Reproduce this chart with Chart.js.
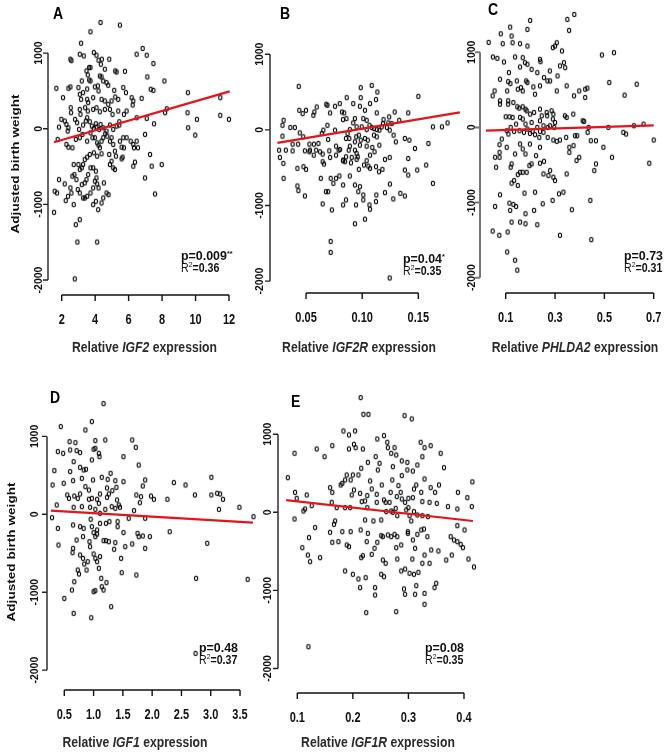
<!DOCTYPE html>
<html>
<head>
<meta charset="utf-8">
<script src="https://cdn.jsdelivr.net/npm/chart.js@4.4.1/dist/chart.umd.min.js"></script>
<style>
html, body { margin: 0; padding: 0; background: #fff; }
#wrap { position: relative; width: 670px; height: 755px; }
#wrap canvas { position: absolute; left: 0; top: 0; }
</style>
</head>
<body>
<div id="wrap">
  <canvas id="pA" width="670" height="755"></canvas>
  <canvas id="pB" width="670" height="755"></canvas>
  <canvas id="pC" width="670" height="755"></canvas>
  <canvas id="pD" width="670" height="755"></canvas>
  <canvas id="pE" width="670" height="755"></canvas>
</div>
<script>
// ---- data ----
const yTicks = [-2000, -1000, 0, 1000];

const igf2Ticks = [2, 4, 6, 8, 10, 12];
const igf2Labels = ['2', '4', '6', '8', '10', '12'];
const igf2Pts = [[4.32,1405],[5.48,1370],[3.72,1282],[3.16,1131],[2.52,920],[2.58,900],[3.08,985],[3.32,963],[3.92,1008],[4.08,972],[4.2,906],[4.4,919],[4.34,853],[3.64,809],[3.72,809],[4.84,919],[6.48,985],[6.84,1061],[7.08,972],[7.48,862],[5.2,765],[5.28,751],[5.78,760],[4.58,787],[4.28,698],[4.38,685],[4.48,632],[4.68,610],[4.78,575],[3.48,765],[3.56,712],[3.2,632],[3.64,645],[3.72,632],[7.12,685],[8.14,632],[7.48,508],[7.32,522],[1.68,535],[2.08,411],[2.4,535],[2.52,553],[3.0,544],[3.28,477],[3.52,526],[3.98,553],[4.16,566],[4.2,500],[5.14,508],[5.2,420],[5.68,544],[5.84,477],[6.18,411],[6.28,367],[6.24,314],[6.78,402],[3.08,455],[3.16,389],[3.52,389],[3.58,345],[3.88,411],[4.38,389],[4.58,367],[4.78,323],[4.98,367],[5.38,389],[2.54,278],[2.56,212],[3.08,256],[3.12,190],[3.56,234],[3.4,278],[3.88,256],[4.08,278],[4.28,225],[4.58,256],[4.88,256],[5.04,190],[5.38,234],[5.72,190],[5.88,234],[6.48,146],[7.08,137],[7.52,66],[8.18,212],[8.28,265],[9.54,477],[9.52,212],[9.56,13],[10.08,124],[9.98,-84],[11.48,411],[11.48,177],[12.0,124],[1.98,124],[2.18,102],[2.28,57],[2.4,13],[1.84,22],[1.76,-141],[2.36,-31],[2.8,124],[2.92,80],[3.04,-9],[3.28,49],[3.44,102],[3.52,146],[3.68,93],[3.8,35],[3.92,4],[4.08,22],[4.24,-9],[4.04,66],[4.32,57],[4.48,13],[4.68,-31],[4.88,49],[5.08,-9],[5.28,35],[5.44,93],[5.44,49],[2.28,-208],[2.4,-243],[2.64,-252],[2.84,-141],[3.08,-119],[3.24,-75],[3.52,-164],[3.72,-53],[3.84,-119],[3.98,-119],[4.12,-186],[4.2,-217],[4.28,-252],[4.38,-164],[4.48,-119],[4.6,-66],[4.72,-97],[4.88,-164],[4.98,-119],[5.08,-208],[5.18,-296],[5.24,-362],[4.84,-340],[4.38,-331],[4.12,-362],[3.92,-318],[3.68,-340],[3.52,-376],[3.38,-407],[3.28,-473],[3.2,-517],[3.08,-539],[3.0,-473],[2.72,-473],[2.76,-606],[2.64,-628],[2.88,-672],[3.2,-738],[3.38,-716],[3.48,-672],[3.58,-606],[3.72,-517],[3.88,-517],[4.04,-561],[4.08,-650],[3.98,-694],[4.12,-729],[3.88,-782],[3.72,-849],[3.52,-893],[3.28,-915],[3.38,-915],[3.08,-849],[2.96,-804],[2.52,-782],[2.58,-849],[2.38,-893],[2.24,-950],[1.84,-672],[1.58,-826],[1.72,-849],[2.18,-729],[1.54,-1105],[2.72,-1003],[3.88,-1003],[4.04,-959],[4.18,-1070],[4.38,-981],[4.48,-915],[4.68,-849],[4.8,-871],[4.52,-716],[4.2,-782],[2.84,-1268],[3.08,-1202],[2.94,-1498],[4.12,-1498],[2.78,-1985],[5.48,-164],[5.58,-243],[5.68,-119],[5.72,-252],[5.88,-119],[6.12,-164],[6.28,-208],[6.32,-252],[6.48,-164],[6.56,-252],[6.38,-442],[6.28,-495],[5.64,-376],[4.98,-429],[4.88,-473],[5.08,-517],[5.18,-539],[5.58,-398],[6.98,-75],[7.28,-340],[7.38,-495],[7.98,-473],[6.98,-650],[7.58,-862]];
const igf2Fit = [[1.54,-178],[12.04,494]];

const igf2rTicks = [0.05, 0.10, 0.15];
const igf2rLabels = ['0.05', '0.10', '0.15'];
const igf2rPts = [[0.0435,575],[0.0987,558],[0.1085,588],[0.1135,500],[0.1123,400],[0.0987,426],[0.0862,426],[0.092,347],[0.098,312],[0.107,347],[0.080,347],[0.0758,312],[0.068,338],[0.069,325],[0.0595,303],[0.0574,237],[0.0565,193],[0.05,259],[0.047,215],[0.044,259],[0.030,127],[0.029,61],[0.036,31],[0.040,31],[0.0444,-40],[0.029,-83],[0.026,-268],[0.032,-268],[0.038,-189],[0.043,-189],[0.049,-277],[0.053,-189],[0.0535,-268],[0.057,-189],[0.059,-268],[0.061,-180],[0.0569,-334],[0.0625,-290],[0.064,-48],[0.0654,-4],[0.0697,-127],[0.0758,-4],[0.079,-268],[0.0856,-114],[0.0885,-114],[0.089,4],[0.092,92],[0.0947,-92],[0.097,-70],[0.0996,40],[0.101,149],[0.104,127],[0.1065,61],[0.1085,31],[0.1105,-70],[0.113,-92],[0.1153,-4],[0.1174,40],[0.119,136],[0.1233,92],[0.124,171],[0.1263,83],[0.129,237],[0.1245,-4],[0.128,-70],[0.130,-158],[0.133,127],[0.138,-114],[0.142,-136],[0.141,224],[0.150,443],[0.147,-246],[0.159,-180],[0.163,40],[0.171,40],[0.176,92],[0.157,-465],[0.149,-531],[0.163,-707],[0.141,-378],[0.1203,-391],[0.1245,-364],[0.118,-522],[0.115,-553],[0.1123,-487],[0.107,-509],[0.1055,-479],[0.1016,-465],[0.097,-522],[0.096,-356],[0.095,-312],[0.095,-391],[0.0907,-364],[0.090,-435],[0.0856,-356],[0.083,-409],[0.0803,-259],[0.0767,-334],[0.0714,-364],[0.066,-452],[0.0648,-421],[0.0631,-641],[0.072,-641],[0.0743,-707],[0.0767,-641],[0.0797,-610],[0.083,-729],[0.089,-610],[0.0935,-729],[0.0965,-817],[0.098,-751],[0.101,-861],[0.101,-926],[0.0945,-992],[0.0856,-926],[0.083,-992],[0.073,-1058],[0.0648,-979],[0.0677,-817],[0.0697,-817],[0.049,-874],[0.0423,-742],[0.0432,-803],[0.030,-641],[0.0423,-509],[0.0477,-487],[0.050,-522],[0.0298,-443],[0.0267,-364],[0.1065,-992],[0.1123,-948],[0.107,-1049],[0.1126,-861],[0.1203,-830],[0.1277,-913],[0.134,-839],[0.138,-874],[0.1247,-716],[0.0935,-1242],[0.1025,-1181],[0.0719,-1475],[0.0719,-1620],[0.1245,-1958],[0.104,-408],[0.107,-334],[0.109,-233],[0.111,-290],[0.1153,-202],[0.104,-215],[0.098,-202],[0.0935,-268],[0.088,-268],[0.089,-215],[0.0767,-215],[0.0707,-277],[0.0648,-320],[0.053,-290],[0.038,-277],[0.0475,-92],[0.083,-400],[0.0848,-420],[0.0987,-136],[0.1025,-114],[0.105,-136],[0.0935,-158],[0.087,-48],[0.0829,136],[0.084,224],[0.082,237],[0.0714,224],[0.069,61],[0.086,149],[0.0935,149],[0.095,40],[0.1025,259],[0.113,224],[0.1185,83],[0.122,31],[0.1105,18],[0.104,4],[0.138,-531],[0.141,-597],[0.113,4]];
const igf2rFit = [[0.0245,-171],[0.187,232]];

const phlda2Ticks = [0.1, 0.3, 0.5, 0.7];
const phlda2Labels = ['0.1', '0.3', '0.5', '0.7'];
const phlda2Pts = [[0.199,1423],[0.35,1437],[0.378,1503],[0.357,1291],[0.188,1304],[0.118,1335],[0.08,1246],[0.124,1216],[0.128,1127],[0.158,1114],[0.188,1083],[0.088,1114],[0.031,1131],[0.048,937],[0.066,919],[0.093,871],[0.138,937],[0.169,928],[0.178,862],[0.158,804],[0.188,840],[0.205,773],[0.239,906],[0.241,875],[0.228,729],[0.255,663],[0.279,751],[0.3,1083],[0.307,1127],[0.291,1061],[0.328,1017],[0.336,862],[0.341,795],[0.32,818],[0.31,685],[0.49,964],[0.539,995],[0.52,597],[0.631,575],[0.582,429],[0.113,729],[0.11,610],[0.106,486],[0.11,354],[0.077,641],[0.119,583],[0.145,619],[0.149,508],[0.162,530],[0.169,486],[0.183,619],[0.188,597],[0.212,539],[0.219,442],[0.239,553],[0.269,619],[0.28,619],[0.307,486],[0.347,553],[0.377,420],[0.398,486],[0.422,508],[0.431,522],[0.422,398],[0.055,486],[0.047,420],[0.077,354],[0.077,309],[0.11,309],[0.131,331],[0.147,274],[0.155,256],[0.169,274],[0.18,243],[0.185,221],[0.199,177],[0.215,199],[0.239,243],[0.266,199],[0.268,155],[0.286,221],[0.293,177],[0.291,111],[0.3,66],[0.34,155],[0.347,133],[0.374,177],[0.412,88],[0.418,80],[0.1,141],[0.115,141],[0.128,133],[0.142,44],[0.158,133],[0.169,111],[0.18,44],[0.205,66],[0.239,88],[0.246,155],[0.253,22],[0.27,0],[0.28,22],[0.297,0],[0.104,-44],[0.111,-88],[0.12,0],[0.134,-53],[0.156,-44],[0.174,-66],[0.188,-22],[0.198,-80],[0.209,-53],[0.219,-97],[0.228,0],[0.236,-133],[0.239,-53],[0.253,-66],[0.27,-133],[0.293,-168],[0.307,-186],[0.32,-168],[0.345,-133],[0.358,-265],[0.358,-332],[0.375,-243],[0.381,-111],[0.39,-111],[0.398,-398],[0.387,-442],[0.432,-66],[0.436,0],[0.445,-177],[0.466,-177],[0.496,-265],[0.516,0],[0.577,-66],[0.588,-88],[0.62,22],[0.659,44],[0.7,-168],[0.682,-477],[0.531,-398],[0.466,-486],[0.459,-575],[0.443,-972],[0.447,-1494],[0.368,-1096],[0.32,-1436],[0.228,-1295],[0.18,-1282],[0.158,-1260],[0.124,-1260],[0.108,-1392],[0.074,-1436],[0.047,-1379],[0.106,-1658],[0.138,-1768],[0.147,-1900],[0.057,-1052],[0.077,-897],[0.115,-1008],[0.118,-1105],[0.131,-1025],[0.142,-1052],[0.18,-1149],[0.215,-1105],[0.219,-862],[0.176,-875],[0.149,-773],[0.134,-707],[0.124,-742],[0.12,-530],[0.124,-486],[0.138,-354],[0.149,-628],[0.158,-597],[0.169,-597],[0.185,-597],[0.196,-508],[0.205,-486],[0.239,-477],[0.255,-451],[0.253,-619],[0.273,-641],[0.28,-575],[0.293,-663],[0.3,-707],[0.316,-884],[0.334,-862],[0.347,-619],[0.29,-972],[0.25,-1017],[0.075,-332],[0.075,-398],[0.057,-398],[0.061,-530],[0.104,-265],[0.084,-155],[0.158,-221],[0.169,-287],[0.18,-354],[0.198,-221],[0.223,-376],[0.239,-265],[0.075,-230]];
const phlda2Fit = [[0.02,-44],[0.70,28]];

const igf1Ticks = [0.5, 1.0, 1.5, 2.0, 2.5, 3.0, 3.5];
const igf1Labels = ['0.5', '1.0', '1.5', '2.0', '2.5', '3.0', '3.5'];
const igf1Pts = [[1.17,1421],[0.44,1126],[0.97,1190],[0.86,1083],[0.59,933],[0.69,920],[1.03,946],[1.2,954],[1.66,954],[1.72,860],[0.39,805],[0.48,783],[0.6,826],[0.71,817],[0.77,792],[1.0,835],[1.03,847],[1.09,783],[1.1,740],[0.97,698],[0.66,676],[0.77,603],[0.83,569],[0.87,578],[1.51,740],[1.77,633],[0.33,561],[0.6,548],[0.3,377],[0.49,398],[0.65,432],[0.8,462],[0.86,355],[0.92,312],[0.99,441],[1.14,475],[1.24,449],[1.29,526],[1.37,432],[1.39,346],[1.51,419],[1.23,338],[1.26,261],[1.32,304],[1.4,184],[1.45,90],[1.84,364],[1.88,441],[1.73,248],[1.81,227],[1.79,150],[1.98,235],[2.03,193],[2.26,193],[2.37,407],[2.57,377],[2.73,248],[3.01,475],[3.01,248],[3.11,270],[3.16,261],[3.21,193],[3.14,64],[3.49,90],[3.73,-30],[0.55,248],[0.58,205],[0.67,235],[0.73,205],[0.77,261],[0.92,193],[0.97,205],[1.06,193],[1.09,141],[1.11,261],[1.23,218],[0.37,120],[0.66,90],[0.8,98],[0.94,90],[1.03,64],[1.11,13],[1.2,64],[1.31,98],[1.37,77],[1.43,120],[1.69,47],[0.29,-43],[0.65,-137],[0.77,-158],[0.83,-180],[0.95,-64],[0.97,-158],[1.0,-235],[1.06,-201],[1.03,-287],[1.11,-116],[1.21,-116],[1.27,-94],[1.41,-94],[1.41,-158],[1.51,-235],[1.6,-51],[1.88,-51],[1.75,-244],[1.77,-287],[1.84,-278],[1.96,-287],[2.3,-223],[0.39,-180],[0.4,-394],[0.65,-437],[0.64,-492],[0.71,-330],[0.82,-287],[0.93,-351],[0.94,-415],[1.06,-253],[1.17,-338],[1.21,-338],[1.26,-351],[1.37,-364],[1.35,-449],[1.54,-415],[1.66,-381],[1.88,-437],[1.47,-565],[0.77,-522],[0.82,-565],[0.9,-608],[0.84,-638],[0.88,-715],[1.0,-509],[1.03,-565],[1.06,-608],[1.11,-543],[1.09,-693],[0.73,-715],[0.75,-766],[0.67,-865],[1.13,-822],[1.22,-877],[1.14,-929],[1.17,-972],[1.0,-993],[1.03,-980],[0.63,-972],[0.5,-1079],[1.3,-1186],[0.66,-1271],[0.96,-1327],[1.48,-749],[1.73,-779],[2.75,-822],[2.94,-372],[3.63,-835],[2.74,-1785]];
const igf1Fit = [[0.27,47],[3.72,-107]];

const igf1rTicks = [0.1, 0.2, 0.3, 0.4];
const igf1rLabels = ['0.1', '0.2', '0.3', '0.4'];
const igf1rPts = [[0.214,1469],[0.219,1255],[0.228,1255],[0.293,1238],[0.306,1196],[0.183,1042],[0.193,991],[0.204,1042],[0.244,939],[0.256,982],[0.135,811],[0.163,854],[0.095,756],[0.149,713],[0.193,811],[0.202,871],[0.205,828],[0.218,811],[0.262,897],[0.263,828],[0.275,828],[0.269,756],[0.278,734],[0.288,658],[0.298,640],[0.322,897],[0.329,828],[0.34,854],[0.358,756],[0.325,713],[0.316,606],[0.308,529],[0.298,542],[0.288,470],[0.272,585],[0.248,628],[0.241,713],[0.245,542],[0.227,640],[0.215,564],[0.21,478],[0.2,478],[0.196,414],[0.189,478],[0.186,414],[0.178,350],[0.181,371],[0.083,444],[0.096,256],[0.099,179],[0.117,222],[0.095,-85],[0.111,17],[0.114,43],[0.126,85],[0.159,316],[0.163,256],[0.162,128],[0.171,60],[0.186,60],[0.195,60],[0.198,222],[0.202,286],[0.213,243],[0.216,137],[0.222,145],[0.226,214],[0.226,60],[0.234,299],[0.231,401],[0.243,128],[0.243,231],[0.252,350],[0.256,158],[0.259,128],[0.266,128],[0.268,256],[0.271,414],[0.279,201],[0.282,342],[0.277,51],[0.286,256],[0.288,171],[0.294,128],[0.3,179],[0.3,60],[0.308,188],[0.31,299],[0.314,350],[0.323,256],[0.325,137],[0.329,427],[0.338,128],[0.34,316],[0.348,256],[0.355,350],[0.351,115],[0.364,572],[0.371,73],[0.389,256],[0.388,43],[0.406,188],[0.414,73],[0.222,-98],[0.237,-111],[0.251,-98],[0.26,9],[0.269,17],[0.272,0],[0.28,-43],[0.296,30],[0.302,-43],[0.31,9],[0.316,-34],[0.325,-43],[0.335,-55],[0.305,-111],[0.168,-111],[0.166,-154],[0.159,-256],[0.132,-196],[0.121,-324],[0.109,-453],[0.119,-547],[0.123,-632],[0.141,-581],[0.163,-384],[0.174,-376],[0.181,-248],[0.189,-418],[0.193,-440],[0.196,-248],[0.214,-226],[0.225,-376],[0.215,-581],[0.218,-555],[0.227,-269],[0.234,-538],[0.239,-461],[0.244,-384],[0.251,-299],[0.254,-312],[0.254,-611],[0.259,-653],[0.263,-290],[0.269,-312],[0.275,-282],[0.278,-453],[0.28,-312],[0.28,-598],[0.287,-418],[0.299,-248],[0.299,-269],[0.308,-354],[0.312,-461],[0.316,-282],[0.323,-226],[0.328,-214],[0.334,-312],[0.341,-482],[0.329,-547],[0.325,-653],[0.338,-653],[0.307,-598],[0.287,-751],[0.294,-726],[0.302,-781],[0.31,-794],[0.318,-769],[0.186,-751],[0.2,-794],[0.21,-854],[0.213,-965],[0.223,-837],[0.24,-965],[0.24,-1059],[0.251,-794],[0.256,-824],[0.292,-982],[0.294,-1050],[0.314,-939],[0.312,-1050],[0.329,-1038],[0.347,-965],[0.35,-909],[0.329,-1178],[0.224,-1285],[0.278,-1272],[0.12,-1721],[0.376,-312],[0.382,-354],[0.388,-376],[0.394,-410],[0.398,-453],[0.368,-611],[0.378,-547],[0.388,-171],[0.401,-226],[0.408,-598],[0.354,-495],[0.415,390],[0.418,-700]];
const igf1rFit = [[0.080,157],[0.416,-111]];

const geneNames = ['IGF2', 'IGF2R', 'PHLDA2', 'IGF1', 'IGF1R'];
const pTexts = ['p=0.009', 'p=0.04', 'p=0.73', 'p=0.48', 'p=0.08'];
const pStars = ['**', '*', '', '', ''];
const r2Texts = ['0.36', '0.35', '0.31', '0.37', '0.35'];

// ---- layout ----
const FONT = '"Liberation Sans", Arial, sans-serif';
const panels = [
  { id: 'pA', letter: 'A', pts: igf2Pts, fit: igf2Fit, ticks: igf2Ticks, labels: igf2Labels, gene: 0,
    area: [48, 4, 238, 295], x: [1.181, 12.538], y: [-2198, 1636], ylabOff: 10,
    letterPos: [53, 13], statPos: [181, 255], titlePos: [144.5, 347], yTitle: [15, 164], axisCol: '#222' },
  { id: 'pB', letter: 'B', pts: igf2rPts, fit: igf2rFit, ticks: igf2rTicks, labels: igf2rLabels, gene: 1,
    area: [270, 4, 462, 293], x: [0.0179, 0.1889], y: [-2157, 1651], ylabOff: 11,
    letterPos: [280, 13], statPos: [403, 258], titlePos: [359, 347], yTitle: null, axisCol: '#222' },
  { id: 'pC', letter: 'C', pts: phlda2Pts, fit: phlda2Fit, ticks: phlda2Ticks, labels: phlda2Labels, gene: 2,
    area: [480, 4, 662, 293], x: [-0.0042, 0.7336], y: [-2204, 1629], ylabOff: 9,
    letterPos: [488, 9], statPos: [624, 255], titlePos: [575, 347], yTitle: null, axisCol: '#777' },
  { id: 'pD', letter: 'D', pts: igf1Pts, fit: igf1Fit, ticks: igf1Ticks, labels: igf1Labels, gene: 3,
    area: [47, 392, 258, 690], x: [0.2046, 3.807], y: [-2255, 1570], ylabOff: 13,
    letterPos: [50, 397], statPos: [199, 647], titlePos: [135, 742], yTitle: [11, 552], axisCol: '#222' },
  { id: 'pE', letter: 'E', pts: igf1rPts, fit: igf1rFit, ticks: igf1rTicks, labels: igf1rLabels, gene: 4,
    area: [278, 388, 476, 693], x: [0.0653, 0.4216], y: [-2314, 1592], ylabOff: 11,
    letterPos: [291, 401], statPos: [425, 647], titlePos: [378, 742], yTitle: null, axisCol: '#222' }
];

// small open ellipse used as point marker
function ring() {
  const c = document.createElement('canvas');
  c.width = 8; c.height = 9;
  const g = c.getContext('2d');
  g.strokeStyle = '#000';
  g.lineWidth = 1.1;
  g.beginPath();
  g.ellipse(4, 4.5, 1.6, 2.2, 0, 0, Math.PI * 2);
  g.stroke();
  return c;
}
const marker = ring();

// draw a run of text pieces (optionally rotated) with a stretch
function runs(ctx, parts, x, y, o) {
  ctx.save();
  ctx.translate(x, y);
  if (o.rot) ctx.rotate(-Math.PI / 2);
  ctx.scale(o.sx || 1, o.sy || 1);
  ctx.fillStyle = o.color || '#111';
  ctx.textBaseline = 'alphabetic';
  ctx.textAlign = 'left';
  let total = 0;
  parts.forEach(p => { ctx.font = p.font; p.w = ctx.measureText(p.t).width; total += p.w; });
  let cx = o.align === 'left' ? 0 : -total / 2;
  parts.forEach(p => {
    ctx.font = p.font;
    ctx.fillText(p.t, cx, (o.dy || 0) + (p.dy || 0));
    cx += p.w;
  });
  ctx.restore();
}

function rAxes(p) {
  return {
    id: 'rAxes' + p.letter,
    afterDraw(chart) {
      const ctx = chart.ctx, xs = chart.scales.x, ys = chart.scales.y, a = chart.chartArea;
      ctx.save();
      // y axis
      ctx.strokeStyle = p.axisCol;
      ctx.lineWidth = p.axisCol === '#777' ? 2 : 1.4;
      ctx.beginPath();
      ctx.moveTo(a.left, ys.getPixelForValue(yTicks[0]));
      ctx.lineTo(a.left, ys.getPixelForValue(yTicks[yTicks.length - 1]));
      yTicks.forEach(v => {
        const py = ys.getPixelForValue(v);
        ctx.moveTo(a.left, py);
        ctx.lineTo(a.left - 5, py);
      });
      ctx.stroke();
      yTicks.forEach(v => {
        runs(ctx, [{ t: String(v), font: 'bold 11px ' + FONT }], a.left - p.ylabOff, ys.getPixelForValue(v),
          { rot: true, sx: 0.95, sy: 1.05, dy: 4 });
      });
      // x axis
      ctx.strokeStyle = '#111';
      ctx.lineWidth = 1.4;
      ctx.beginPath();
      ctx.moveTo(xs.getPixelForValue(p.ticks[0]), a.bottom);
      ctx.lineTo(xs.getPixelForValue(p.ticks[p.ticks.length - 1]), a.bottom);
      p.ticks.forEach(v => {
        const px = xs.getPixelForValue(v);
        ctx.moveTo(px, a.bottom);
        ctx.lineTo(px, a.bottom + 6);
      });
      ctx.stroke();
      p.ticks.forEach((v, i) => {
        runs(ctx, [{ t: p.labels[i], font: 'bold 11px ' + FONT }], xs.getPixelForValue(v), a.bottom + 29,
          { sy: 1.27 });
      });
      // axis titles
      const gene = geneNames[p.gene];
      runs(ctx, [
        { t: 'Relative ', font: 'bold 12.2px ' + FONT },
        { t: gene, font: 'italic bold 12.2px ' + FONT },
        { t: ' expression', font: 'bold 12.2px ' + FONT }
      ], p.titlePos[0], p.titlePos[1] + 5, { sy: 1.26, color: '#2a2a2a' });
      if (p.yTitle) {
        runs(ctx, [{ t: 'Adjusted birth weight', font: 'bold 10.8px ' + FONT }], p.yTitle[0], p.yTitle[1],
          { rot: true, sx: 1.26, dy: 4, color: '#111' });
      }
      // panel letter
      runs(ctx, [{ t: p.letter, font: 'bold 14px ' + FONT }], p.letterPos[0], p.letterPos[1] + 6,
        { align: 'left', sy: 1.2, color: '#000' });
      // statistics
      runs(ctx, [
        { t: pTexts[p.gene], font: 'bold 13.5px ' + FONT },
        { t: pStars[p.gene], font: 'bold 8px ' + FONT, dy: -4 }
      ], p.statPos[0], p.statPos[1] + 5, { align: 'left', sx: 0.92, color: '#111' });
      runs(ctx, [
        { t: 'R', font: '12.5px ' + FONT },
        { t: '2', font: '8px ' + FONT, dy: -5 },
        { t: '=' + r2Texts[p.gene], font: 'bold 12.5px ' + FONT }
      ], p.statPos[0], p.statPos[1] + 17, { align: 'left', sx: 0.85, color: '#111' });
      ctx.restore();
    }
  };
}

panels.forEach(p => {
  const [L, T, R, B] = p.area;
  new Chart(document.getElementById(p.id), {
    type: 'scatter',
    data: {
      datasets: [
        {
          data: p.fit.map(d => ({ x: d[0], y: d[1] })),
          showLine: true,
          borderColor: '#e5141b',
          borderWidth: 2.2,
          pointRadius: 0,
          clip: false
        },
        {
          data: p.pts.map(d => ({ x: d[0], y: d[1] })),
          pointStyle: marker,
          pointRadius: 2,
          clip: false
        }
      ]
    },
    options: {
      responsive: false,
      animation: false,
      events: [],
      layout: { padding: { left: L, top: T, right: 670 - R, bottom: 755 - B } },
      plugins: { legend: { display: false }, tooltip: { enabled: false } },
      scales: {
        x: { type: 'linear', display: false, min: p.x[0], max: p.x[1] },
        y: { type: 'linear', display: false, min: p.y[0], max: p.y[1] }
      }
    },
    plugins: [rAxes(p)]
  });
});
</script>
</body>
</html>
